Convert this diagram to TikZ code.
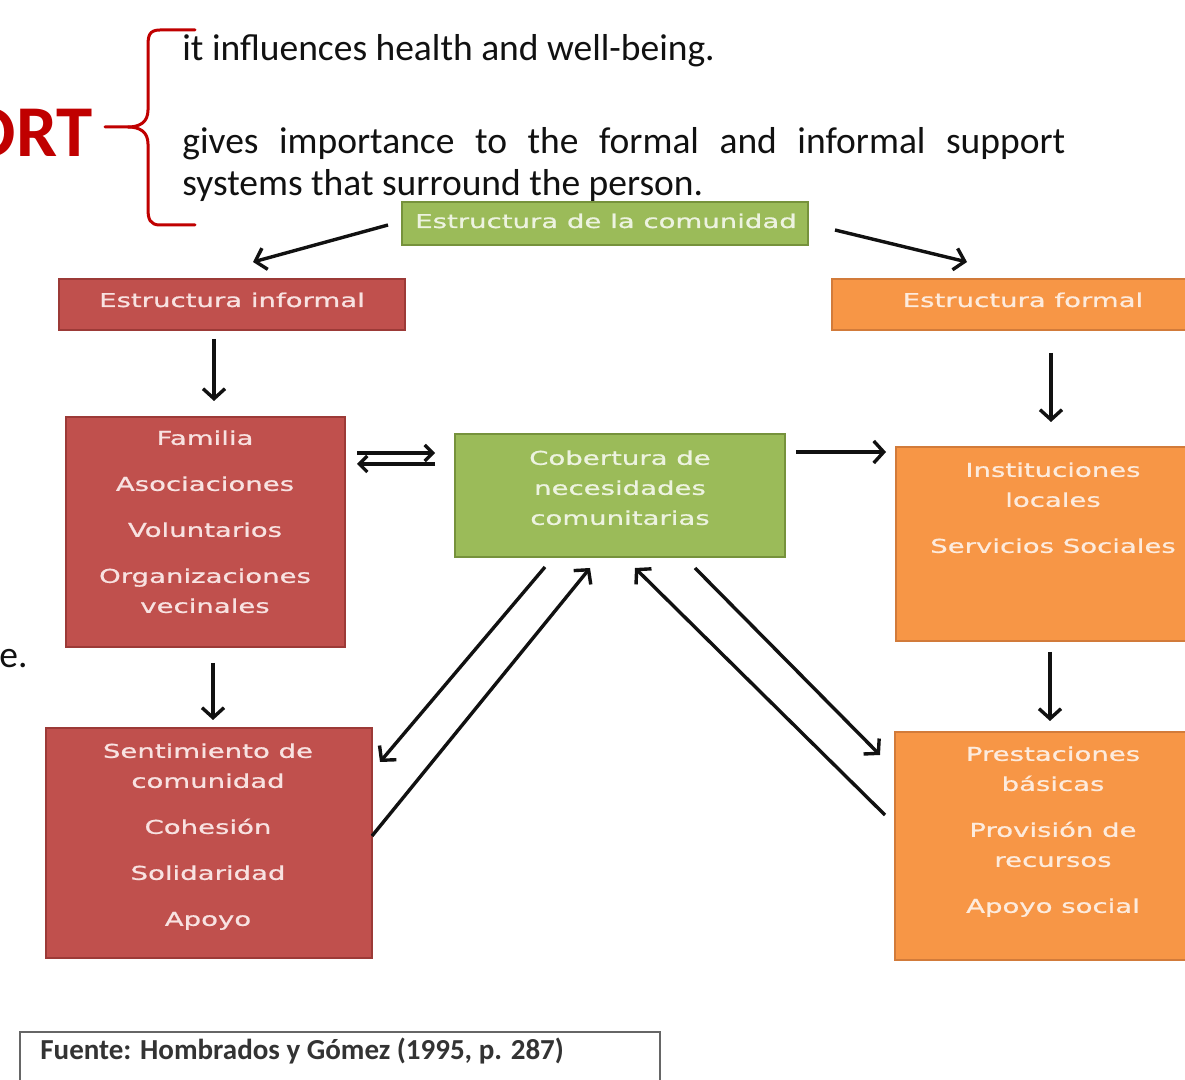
\documentclass[tikz,border=0pt]{standalone}
\usepackage{fontspec}
\setmainfont{Carlito}
\newfontfamily\boxfont[FakeStretch=1.45,FakeBold=0.9]{DejaVu Sans}
\usetikzlibrary{arrows.meta}
\definecolor{redfill}{HTML}{C0504D}
\definecolor{redline}{HTML}{9C3A37}
\definecolor{redtext}{HTML}{F8E2E1}
\definecolor{orfill}{HTML}{F79646}
\definecolor{orline}{HTML}{D27B3A}
\definecolor{ortext}{HTML}{FDEBDD}
\definecolor{grfill}{HTML}{9BBB59}
\definecolor{grline}{HTML}{76923C}
\definecolor{grtext}{HTML}{EDF3E0}
\definecolor{bracered}{HTML}{C00000}
\definecolor{ink}{HTML}{111111}
\begin{document}
\begin{tikzpicture}[x=0.5pt,y=-0.5pt,
  box/.style 2 args={draw, line width=1pt, minimum width=#1*0.5pt, minimum height=#2*0.5pt, inner sep=0pt, outer sep=0pt},
  redbox/.style={fill=redfill, draw=redline},
  orbox/.style={fill=orfill, draw=orline},
  grbox/.style={fill=grfill, draw=grline},
  boxtext/.style={font=\boxfont\fontsize{9.5pt}{15pt}\selectfont, align=center, inner sep=0pt},
  bodytext/.style={font=\fontsize{18.75pt}{22pt}\selectfont, text=ink, inner sep=0pt, anchor=base west},
  arr/.style={line width=1.7pt, draw=ink, -{Straight Barb[length=5pt,width=11pt]}},
  smallarr/.style={line width=1.6pt, draw=ink, -{Straight Barb[length=4pt,width=8pt]}},
  bracestyle/.style={draw=bracered, line width=1.5pt, line cap=round}
]
\useasboundingbox (0,0) rectangle (1185,1080);
\clip (0,0) rectangle (1185,1080);
\fill[white] (0,0) rectangle (1185,1080);

% header texts
\node[font=\bfseries\fontsize{36.5pt}{40pt}\selectfont, text=bracered, inner sep=0pt, anchor=base east] (ort) at (93,157) {ORT};
\node[bodytext] (l1) at (182,61) {it influences health and well-being.};
\node[bodytext] (l2) at (182,154) {\makebox[441.5pt][s]{gives importance to the formal and informal support}};
\node[bodytext] (l3) at (182,196) {systems that surround the person.};
\node[bodytext] (le) at (-1,668) {e.};

% brace
\draw[bracestyle] (195,30) -- (160,30) .. controls (149,30) and (148,36) .. (148,46) -- (148,110)
  .. controls (148,122) and (140,127) .. (128,127) -- (105,127);
\draw[bracestyle] (128,127) .. controls (140,127) and (148,132) .. (148,144) -- (148,209)
  .. controls (148,219) and (150,225) .. (160,225) -- (195,225);

% boxes
\node[box={406}{43}, grbox] (top) at (605,223.5) {};
\node[boxtext, text=grtext, anchor=base] (ttop) at (606,228) {Estructura de la comunidad};

\node[box={346}{51}, redbox] (inf) at (232,304.5) {};
\node[boxtext, text=redtext, anchor=base] (tinf) at (232,307) {Estructura informal};

\node[box={363}{51}, orbox] (form) at (1013.5,304.5) {};
\node[boxtext, text=ortext, anchor=base] (tform) at (1023,307) {Estructura formal};

\node[box={279}{230}, redbox] (fam) at (205.5,532) {};
\node[boxtext, text=redtext, anchor=north] (tfam) at (205,430) {Familia\\[8pt] Asociaciones\\[8pt] Voluntarios\\[8pt] Organizaciones\\ vecinales};

\node[box={330}{123}, grbox] (cob) at (620,495.5) {};
\node[boxtext, text=grtext, anchor=north] (tcob) at (620,450) {Cobertura de\\ necesidades\\ comunitarias};

\node[box={299}{194}, orbox] (inst) at (1045.5,544) {};
\node[boxtext, text=ortext, anchor=north] (tinst) at (1053,462) {Instituciones\\ locales\\[8pt] Servicios Sociales};

\node[box={326}{230}, redbox] (sent) at (209,843) {};
\node[boxtext, text=redtext, anchor=north] (tsent) at (208,743) {Sentimiento de\\ comunidad\\[8pt] Cohesión\\[8pt] Solidaridad\\[8pt] Apoyo};

\node[box={300}{228}, orbox] (prest) at (1045,846) {};
\node[boxtext, text=ortext, anchor=north] (tprest) at (1053,746) {Prestaciones\\ básicas\\[8pt] Provisión de\\ recursos\\[8pt] Apoyo social};

% source box
\node[draw=black!60, line width=1pt, fill=white, minimum width=320pt, minimum height=34pt, inner sep=0pt] (src) at (340,1066) {};
\node[font=\bfseries\fontsize{14.5pt}{17pt}\selectfont, text=black!80, anchor=base west, inner sep=0pt] (tsrc) at (40,1059) {Fuente: Hombrados y Gómez (1995, p. 287)};

% arrow end points
\coordinate (a1s) at (388,225); \coordinate (a1e) at (253,262);
\coordinate (a2s) at (835,230); \coordinate (a2e) at (967,262);
\coordinate (a3s) at (214,339); \coordinate (a3e) at (214,401);
\coordinate (a4s) at (1051,353); \coordinate (a4e) at (1051,422);
\coordinate (a5s) at (213,663); \coordinate (a5e) at (213,720);
\coordinate (a6s) at (1050,652); \coordinate (a6e) at (1050,721);
\coordinate (h1s) at (357,453); \coordinate (h1e) at (435,453);
\coordinate (h2s) at (435,464); \coordinate (h2e) at (357,464);
\coordinate (a8s) at (796,452); \coordinate (a8e) at (886,452);
\coordinate (d1s) at (545,567); \coordinate (d1e) at (380,762);
\coordinate (d2s) at (372,836); \coordinate (d2e) at (590,568);
\coordinate (d3s) at (885,815); \coordinate (d3e) at (635,568);
\coordinate (d4s) at (695,568); \coordinate (d4e) at (880,755);

\draw[arr] (a1s) -- (a1e);
\draw[arr] (a2s) -- (a2e);
\draw[arr] (a3s) -- (a3e);
\draw[arr] (a4s) -- (a4e);
\draw[arr] (a5s) -- (a5e);
\draw[arr] (a6s) -- (a6e);
\draw[smallarr] (h1s) -- (h1e);
\draw[smallarr] (h2s) -- (h2e);
\draw[arr] (a8s) -- (a8e);
\draw[arr] (d1s) -- (d1e);
\draw[arr] (d2s) -- (d2e);
\draw[arr] (d3s) -- (d3e);
\draw[arr] (d4s) -- (d4e);
\end{tikzpicture}
\end{document}
